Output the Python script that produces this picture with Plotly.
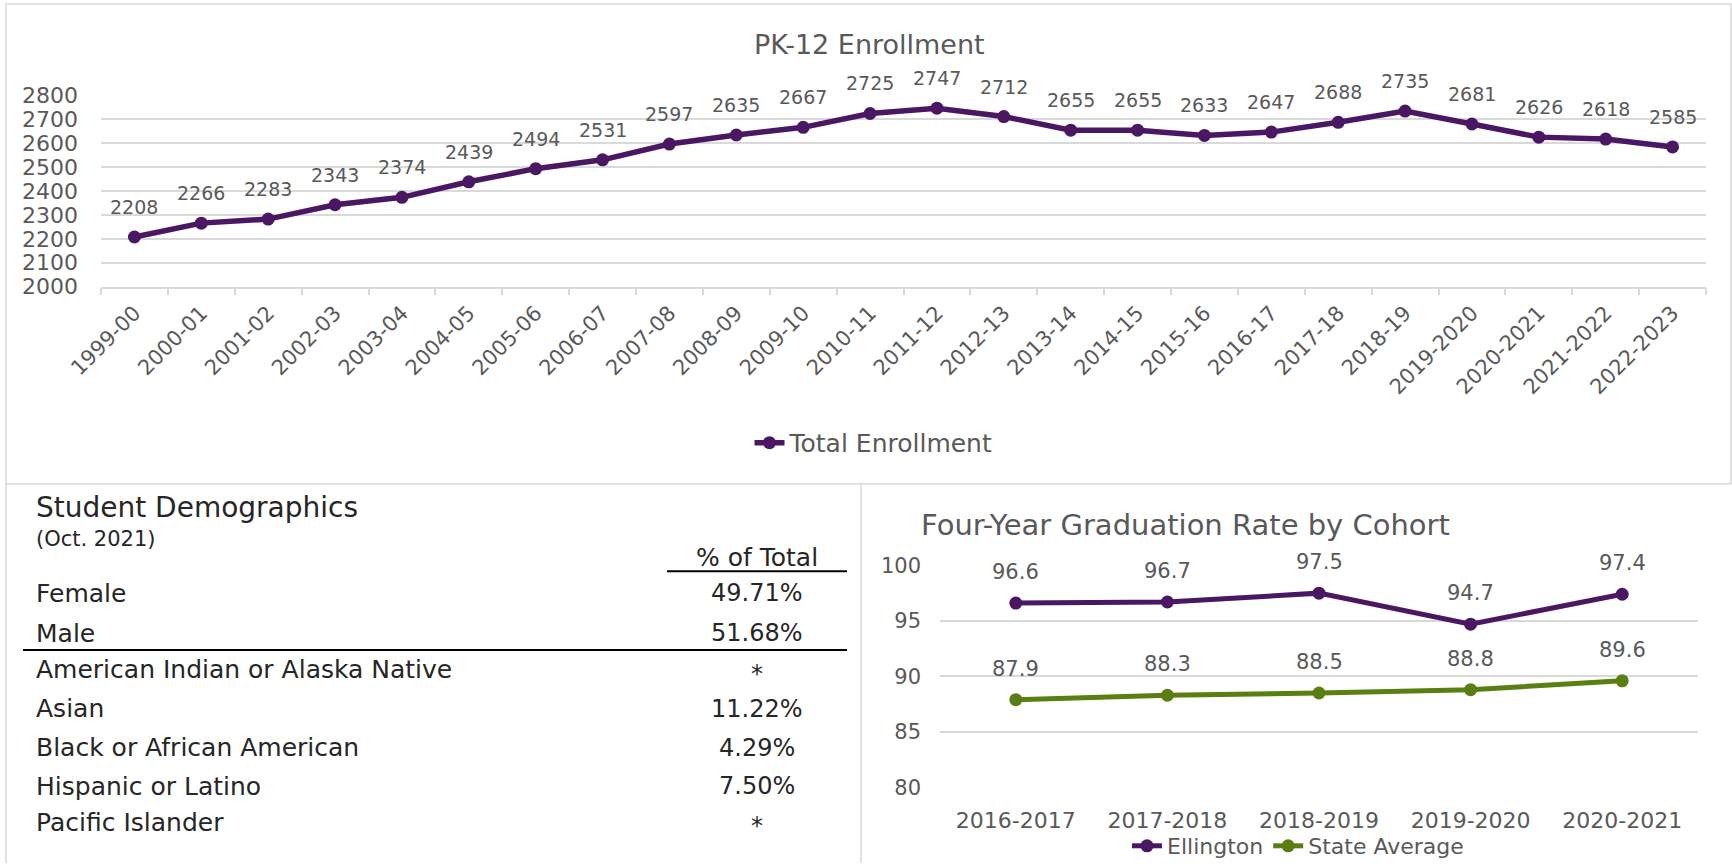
import plotly.graph_objects as go

W, H = 1732, 867

# ---------------- data ----------------
years = ["1999-00", "2000-01", "2001-02", "2002-03", "2003-04", "2004-05", "2005-06",
         "2006-07", "2007-08", "2008-09", "2009-10", "2010-11", "2011-12", "2012-13",
         "2013-14", "2014-15", "2015-16", "2016-17", "2017-18", "2018-19", "2019-2020",
         "2020-2021", "2021-2022", "2022-2023"]
enrollment = [2208, 2266, 2283, 2343, 2374, 2439, 2494, 2531, 2597, 2635, 2667, 2725,
              2747, 2712, 2655, 2655, 2633, 2647, 2688, 2735, 2681, 2626, 2618, 2585]

cohorts = ["2016-2017", "2017-2018", "2018-2019", "2019-2020", "2020-2021"]
ellington = [96.6, 96.7, 97.5, 94.7, 97.4]
state_avg = [87.9, 88.3, 88.5, 88.8, 89.6]

gender_groups = ["Female", "Male"]
gender_pct = ["49.71%", "51.68%"]
race_groups = ["American Indian or Alaska Native", "Asian", "Black or African American",
               "Hispanic or Latino", "Pacific Islander"]
race_pct = ["*", "11.22%", "4.29%", "7.50%", "*"]

# ---------------- style ----------------
FONT = "DejaVu Sans"
PURPLE = "#4a1763"
GREEN = "#5a7e12"
GRAY_TXT = "#595959"
GRID = "#d9d9d9"
TABLE_TXT = "#262626"


def px_x(x):
    return x / W


def px_y(y):
    return 1 - y / H


fig = go.Figure()

# ---------------- top chart ----------------
fig.add_trace(go.Scatter(
    x=years, y=enrollment, mode="lines+markers", name="Total Enrollment",
    line=dict(color=PURPLE, width=5.5), marker=dict(color=PURPLE, size=13),
    xaxis="x", yaxis="y", legend="legend", cliponaxis=False,
))

# ---------------- graduation chart ----------------
fig.add_trace(go.Scatter(
    x=cohorts, y=ellington, mode="lines+markers", name="Ellington",
    line=dict(color=PURPLE, width=5), marker=dict(color=PURPLE, size=13),
    xaxis="x2", yaxis="y2", legend="legend2", cliponaxis=False,
))
fig.add_trace(go.Scatter(
    x=cohorts, y=state_avg, mode="lines+markers", name="State Average",
    line=dict(color=GREEN, width=5), marker=dict(color=GREEN, size=13),
    xaxis="x2", yaxis="y2", legend="legend2", cliponaxis=False,
))

annotations = []
for xv, yv in zip(years, enrollment):
    annotations.append(dict(x=xv, y=yv, xref="x", yref="y", text=str(yv), showarrow=False,
                            yshift=30, font=dict(family=FONT, size=19, color=GRAY_TXT)))
for series in (ellington, state_avg):
    for xv, yv in zip(cohorts, series):
        annotations.append(dict(x=xv, y=yv, xref="x2", yref="y2", text=f"{yv:.1f}",
                                showarrow=False, yshift=31,
                                font=dict(family=FONT, size=21, color=GRAY_TXT)))

# titles
annotations.append(dict(x=px_x(869), y=px_y(45), xref="paper", yref="paper",
                        text="PK-12 Enrollment", showarrow=False, xanchor="center",
                        yanchor="middle", font=dict(family=FONT, size=27, color=GRAY_TXT)))
annotations.append(dict(x=px_x(1185), y=px_y(527), xref="paper", yref="paper",
                        text="Four-Year Graduation Rate by Cohort", showarrow=False,
                        xanchor="center", yanchor="middle",
                        font=dict(family=FONT, size=29, color=GRAY_TXT)))

# ---------------- demographics table (text) ----------------
annotations.append(dict(x=px_x(34), y=px_y(510), xref="paper", yref="paper",
                        text="Student Demographics", showarrow=False, xanchor="left",
                        yanchor="middle", font=dict(family=FONT, size=28, color=TABLE_TXT)))
annotations.append(dict(x=px_x(34), y=px_y(541), xref="paper", yref="paper",
                        text="(Oct. 2021)", showarrow=False, xanchor="left",
                        yanchor="middle", font=dict(family=FONT, size=21, color=TABLE_TXT)))
annotations.append(dict(x=px_x(757), y=px_y(560), xref="paper", yref="paper",
                        text="% of Total", showarrow=False, xanchor="center",
                        yanchor="middle", font=dict(family=FONT, size=25, color=TABLE_TXT)))

row_y = [596, 636, 673, 712, 751, 790, 826]
labels = gender_groups + race_groups
values = gender_pct + race_pct
for ry, lab, val in zip(row_y, labels, values):
    annotations.append(dict(x=px_x(34), y=px_y(ry), xref="paper", yref="paper", text=lab,
                            showarrow=False, xanchor="left", yanchor="middle",
                            font=dict(family=FONT, size=25, color=TABLE_TXT)))
    annotations.append(dict(x=px_x(757), y=px_y(ry + (4 if val == "*" else 0)), xref="paper",
                            yref="paper", text=val, showarrow=False, xanchor="center",
                            yanchor="middle", font=dict(family=FONT, size=24, color=TABLE_TXT)))

shapes = [
    # panel borders
    dict(type="rect", xref="paper", yref="paper", x0=px_x(6), x1=px_x(1731),
         y0=px_y(486), y1=px_y(4), line=dict(color=GRID, width=1.5)),
    dict(type="line", xref="paper", yref="paper", x0=px_x(6), x1=px_x(6),
         y0=px_y(486), y1=0, line=dict(color=GRID, width=1.5)),
    dict(type="line", xref="paper", yref="paper", x0=px_x(861), x1=px_x(861),
         y0=px_y(486), y1=0, line=dict(color=GRID, width=1.5)),
    # table rules
    dict(type="line", xref="paper", yref="paper", x0=px_x(667), x1=px_x(847),
         y0=px_y(574), y1=px_y(574), line=dict(color="#000000", width=2)),
    dict(type="line", xref="paper", yref="paper", x0=px_x(23), x1=px_x(847),
         y0=px_y(653), y1=px_y(653), line=dict(color="#000000", width=2)),
]

fig.update_layout(
    width=W, height=H, autosize=False, template="none",
    margin=dict(l=0, r=0, t=0, b=0),
    paper_bgcolor="white", plot_bgcolor="white",
    font=dict(family=FONT, color=GRAY_TXT),
    xaxis=dict(domain=[px_x(101), px_x(1706)], anchor="y", type="category",
               range=[-0.5, len(years) - 0.5],
               tickangle=-45, tickfont=dict(size=21, color=GRAY_TXT, family=FONT),
               showgrid=False, showline=True, linecolor=GRID, linewidth=1.5,
               ticks="outside", tickson="boundaries", ticklen=7, tickcolor=GRID,
               tickwidth=1.5, automargin=False, zeroline=False, fixedrange=True,
               ticklabelstandoff=4),
    yaxis=dict(domain=[px_y(288), px_y(96)], anchor="x", range=[2000, 2800],
               dtick=100, tick0=2000, showgrid=True, gridcolor=GRID, gridwidth=1.5,
               showline=False, zeroline=False, ticks="",
               tickfont=dict(size=22, color=GRAY_TXT, family=FONT), automargin=False,
               ticklabelstandoff=22),
    xaxis2=dict(domain=[px_x(940), px_x(1698)], anchor="y2", type="category",
                range=[-0.5, len(cohorts) - 0.5],
                showgrid=False, showline=False, ticks="", zeroline=False,
                tickfont=dict(size=22, color=GRAY_TXT, family=FONT), automargin=False,
                ticklabelstandoff=18),
    yaxis2=dict(domain=[px_y(791), px_y(568)], anchor="x2", range=[80, 100], dtick=5,
                tick0=80, showgrid=True, gridcolor=GRID, gridwidth=1.5, showline=False,
                zeroline=False, ticks="", tickfont=dict(size=21, color=GRAY_TXT, family=FONT),
                automargin=False, ticklabelstandoff=18),
    legend=dict(orientation="h", x=px_x(874), y=px_y(445), xanchor="center",
                yanchor="middle", font=dict(size=25, color=GRAY_TXT, family=FONT),
                bgcolor="rgba(0,0,0,0)"),
    legend2=dict(orientation="h", x=px_x(1298), y=px_y(850), xanchor="center",
                 yanchor="middle", font=dict(size=22, color=GRAY_TXT, family=FONT),
                 bgcolor="rgba(0,0,0,0)"),
    annotations=annotations,
    shapes=shapes,
    showlegend=True,
)

fig.write_html(
    "out.html",
    config={"displayModeBar": False},
    post_script="document.body.style.margin='0';document.body.style.overflow='hidden';",
)
